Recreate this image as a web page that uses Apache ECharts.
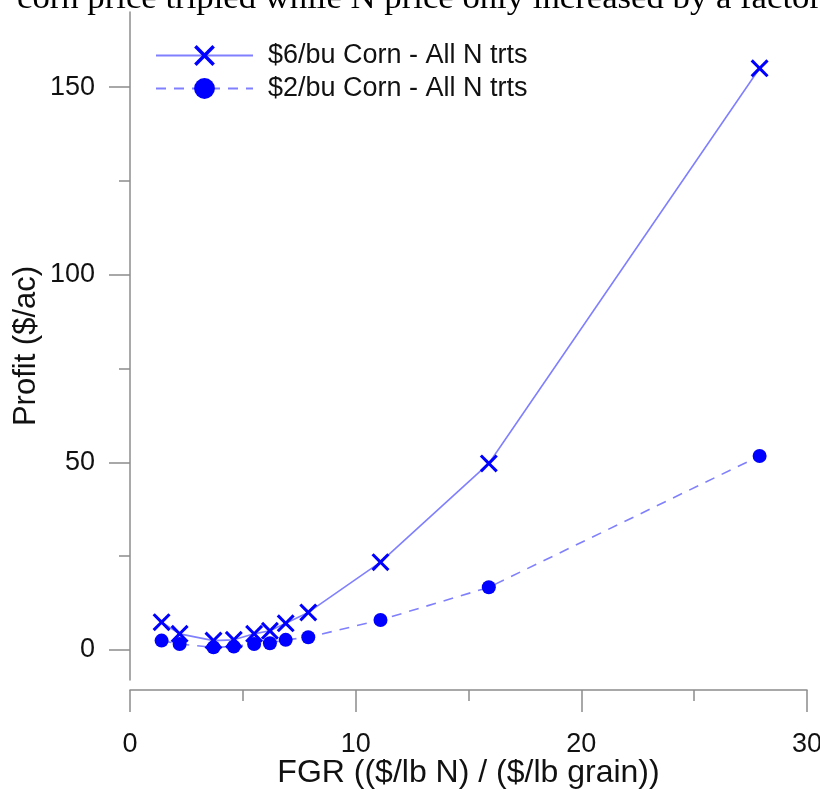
<!DOCTYPE html>
<html>
<head>
<meta charset="utf-8">
<script src="https://cdn.jsdelivr.net/npm/echarts@6/dist/echarts.min.js"></script>
<style>
  html, body { margin: 0; padding: 0; background: #fff; }
  #myChart { width: 820px; height: 790px; }
</style>
</head>
<body>
<div id="myChart"></div>
<script>
// FGR values (x) shared by both series
const fgr = [1.4, 2.2, 3.7, 4.6, 5.5, 6.2, 6.9, 7.9, 11.1, 15.9, 27.9];
const profit6 = [7.4, 4.3, 2.5, 2.7, 4.3, 5.1, 7.1, 10.0, 23.4, 49.7, 155.0]; // $6/bu corn
const profit2 = [2.5, 1.6, 0.7, 0.9, 1.6, 1.8, 2.7, 3.4, 8.0, 16.7, 51.7];   // $2/bu corn
const seriesNames = ['$6/bu Corn - All N trts', '$2/bu Corn - All N trts'];
const yMajor = [0, 50, 100, 150];
const yMinor = [25, 75, 125];
const topLine = 'corn price tripled while N price only increased by a factor';

const axisGrey = '#8c8c8c';
const lineBlue = '#8080ff';
const markBlue = '#0000ff';
const crossPath = 'path://M0,12L12,0L50,38L88,0L100,12L62,50L100,88L88,100L50,62L12,100L0,88L38,50Z';

const myChart = echarts.init(document.getElementById('myChart'));

const pairs = (ys) => fgr.map((x, i) => [x, ys[i]]);

myChart.setOption({
  backgroundColor: '#fff',
  animation: false,
  textStyle: { fontFamily: 'Liberation Sans' },
  grid: { left: 130, right: 13, top: 12, bottom: 110, outerBoundsMode: 'none', containLabel: false },
  legend: {
    left: 150,
    top: 37,
    orient: 'vertical',
    itemWidth: 97,
    itemHeight: 26,
    itemGap: 6,
    textStyle: { fontSize: 27, color: '#111', padding: [0, 0, 0, 10] },
    data: seriesNames
  },
  graphic: [{
    type: 'text',
    x: 17,
    y: -16,
    scaleX: 1.12,
    style: { text: topLine, font: '31px "Liberation Serif"', fill: '#000' }
  }],
  xAxis: {
    type: 'value',
    min: 0, max: 30, interval: 10,
    offset: 10,
    name: 'FGR (($/lb N) / ($/lb grain))',
    nameLocation: 'middle',
    nameGap: 67,
    nameMoveOverlap: false,
    nameTextStyle: { fontSize: 32, color: '#111' },
    axisLine: { show: true, onZero: false, lineStyle: { color: axisGrey, width: 1.5 } },
    axisTick: { show: true, length: 22, lineStyle: { color: axisGrey, width: 1.5 } },
    minorTick: { show: true, splitNumber: 2, length: 11, lineStyle: { color: axisGrey, width: 1.5 } },
    axisLabel: { fontSize: 27, color: '#111', margin: 41 },
    splitLine: { show: false }
  },
  yAxis: [{
    type: 'value',
    min: -8, max: 170,
    name: 'Profit ($/ac)',
    nameLocation: 'middle',
    nameGap: 88,
    nameMoveOverlap: false,
    nameTextStyle: { fontSize: 31, color: '#111' },
    axisLine: { show: true, onZero: false, lineStyle: { color: axisGrey, width: 1.5 } },
    axisTick: { show: true, length: 21, customValues: yMajor, lineStyle: { color: axisGrey, width: 1.5 } },
    axisLabel: { fontSize: 27, color: '#111', margin: 35, customValues: yMajor },
    splitLine: { show: false }
  }, {
    type: 'value',
    position: 'left',
    min: -8, max: 170,
    axisLine: { show: false, onZero: false },
    axisTick: { show: true, length: 11, customValues: yMinor, lineStyle: { color: axisGrey, width: 1.5 } },
    axisLabel: { show: false },
    splitLine: { show: false }
  }],
  series: [{
    name: seriesNames[0],
    type: 'line',
    data: pairs(profit6),
    symbol: crossPath,
    symbolSize: 18,
    itemStyle: { color: markBlue },
    lineStyle: { color: lineBlue, width: 1.6 },
    z: 3
  }, {
    name: seriesNames[1],
    type: 'line',
    data: pairs(profit2),
    symbol: 'circle',
    symbolSize: 14,
    itemStyle: { color: markBlue, borderWidth: 0 },
    lineStyle: { color: lineBlue, width: 1.6, type: [10, 8] },
    z: 2
  }]
});
</script>
</body>
</html>
